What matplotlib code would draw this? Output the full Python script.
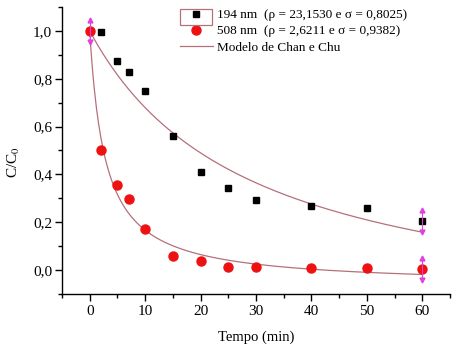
import numpy as np
import matplotlib
matplotlib.use('Agg')
import matplotlib.pyplot as plt
from matplotlib.patches import Rectangle
from matplotlib.ticker import MultipleLocator, FuncFormatter

plt.rcParams['font.family'] = ['Liberation Serif', 'DejaVu Serif']
plt.rcParams['mathtext.fontset'] = 'stix'

# dados
tempo = [0, 2, 5, 7, 10, 15, 20, 25, 30, 40, 50, 60]
c_194 = [1.0, 0.996, 0.876, 0.827, 0.748, 0.561, 0.411, 0.342, 0.293, 0.269, 0.258, 0.206]
c_508 = [1.0, 0.503, 0.354, 0.296, 0.173, 0.059, 0.038, 0.013, 0.013, 0.010, 0.007, 0.004]

# parâmetros do modelo de Chan e Chu (da legenda)
rho_194, sigma_194 = 23.1530, 0.8025
rho_508, sigma_508 = 2.6211, 0.9382

lbl_194 = '194 nm  (\u03c1 = 23,1530 e \u03c3 = 0,8025)'
lbl_508 = '508 nm  (\u03c1 = 2,6211 e \u03c3 = 0,9382)'
lbl_mod = 'Modelo de Chan e Chu'

curve_color = '#b5707a'


def chan_chu(t, rho, sigma):
    return 1 - t / (rho + sigma * t)


fig = plt.figure(figsize=(4.54, 3.46), dpi=100)
ax = fig.add_axes([0.1366, 0.1503, 0.8544, 0.8295])

t_fit = np.linspace(0, 60, 300)
ax.plot(t_fit, chan_chu(t_fit, rho_194, sigma_194), color=curve_color, lw=0.9, label=lbl_mod, zorder=2)
ax.plot(t_fit, chan_chu(t_fit, rho_508, sigma_508), color=curve_color, lw=0.9, zorder=2)

ax.plot(tempo, c_194, 's', color='black', ms=5, ls='none', label=lbl_194, zorder=3)
ax.plot(tempo, c_508, 'o', color='#ee1111', ms=6.5, ls='none', label=lbl_508, zorder=4)

# marcadores magenta (setas) nos extremos
for tx, ty in [(0, c_508[0]), (60, c_194[-1]), (60, c_508[-1])]:
    ax.plot([tx, tx], [ty - 0.045, ty + 0.045], color='#e040e0', lw=0.8, zorder=5)
    ax.plot(tx, ty + 0.045, '^', color='#e040e0', ms=3.5, zorder=5)
    ax.plot(tx, ty - 0.045, 'v', color='#e040e0', ms=3.5, zorder=5)

ax.set_xlim(-5, 65)
ax.set_ylim(-0.1, 1.1)
ax.spines['top'].set_visible(False)
ax.spines['right'].set_visible(False)
ax.spines['left'].set_linewidth(1.0)
ax.spines['bottom'].set_linewidth(1.0)

ax.xaxis.set_major_locator(MultipleLocator(10))
ax.xaxis.set_minor_locator(MultipleLocator(5))
ax.yaxis.set_major_locator(MultipleLocator(0.2))
ax.yaxis.set_minor_locator(MultipleLocator(0.1))
ax.yaxis.set_major_formatter(FuncFormatter(lambda v, p: f'{v:.1f}'.replace('.', ',').replace('-0,0', '0,0')))
ax.tick_params(which='major', direction='out', length=5, width=1, labelsize=11)
ax.tick_params(axis='y', which='major', pad=2)
ax.tick_params(axis='x', which='major', pad=3)
ax.tick_params(which='minor', direction='out', length=3, width=1)

ax.set_xlabel('Tempo (min)', fontsize=10.5, labelpad=9)
ax.set_ylabel('C/C$_0$', fontsize=11)
ax.yaxis.set_label_coords(-0.103, 0.46)

handles, labels = ax.get_legend_handles_labels()
order = [1, 2, 0]
ax.legend([handles[i] for i in order], [labels[i] for i in order],
          loc='upper left', bbox_to_anchor=(180 / 454, 1 - 9 / 346), bbox_transform=fig.transFigure,
          frameon=False, fontsize=9.5, handlelength=2.5, handletextpad=0.3,
          labelspacing=0.3, borderpad=0, borderaxespad=0)

fig.patches.append(Rectangle((180 / 454, 1 - 25 / 346), 32 / 454, 16 / 346, transform=fig.transFigure,
                             fill=False, edgecolor=curve_color, lw=0.9))

fig.savefig('out.png', dpi=100)
